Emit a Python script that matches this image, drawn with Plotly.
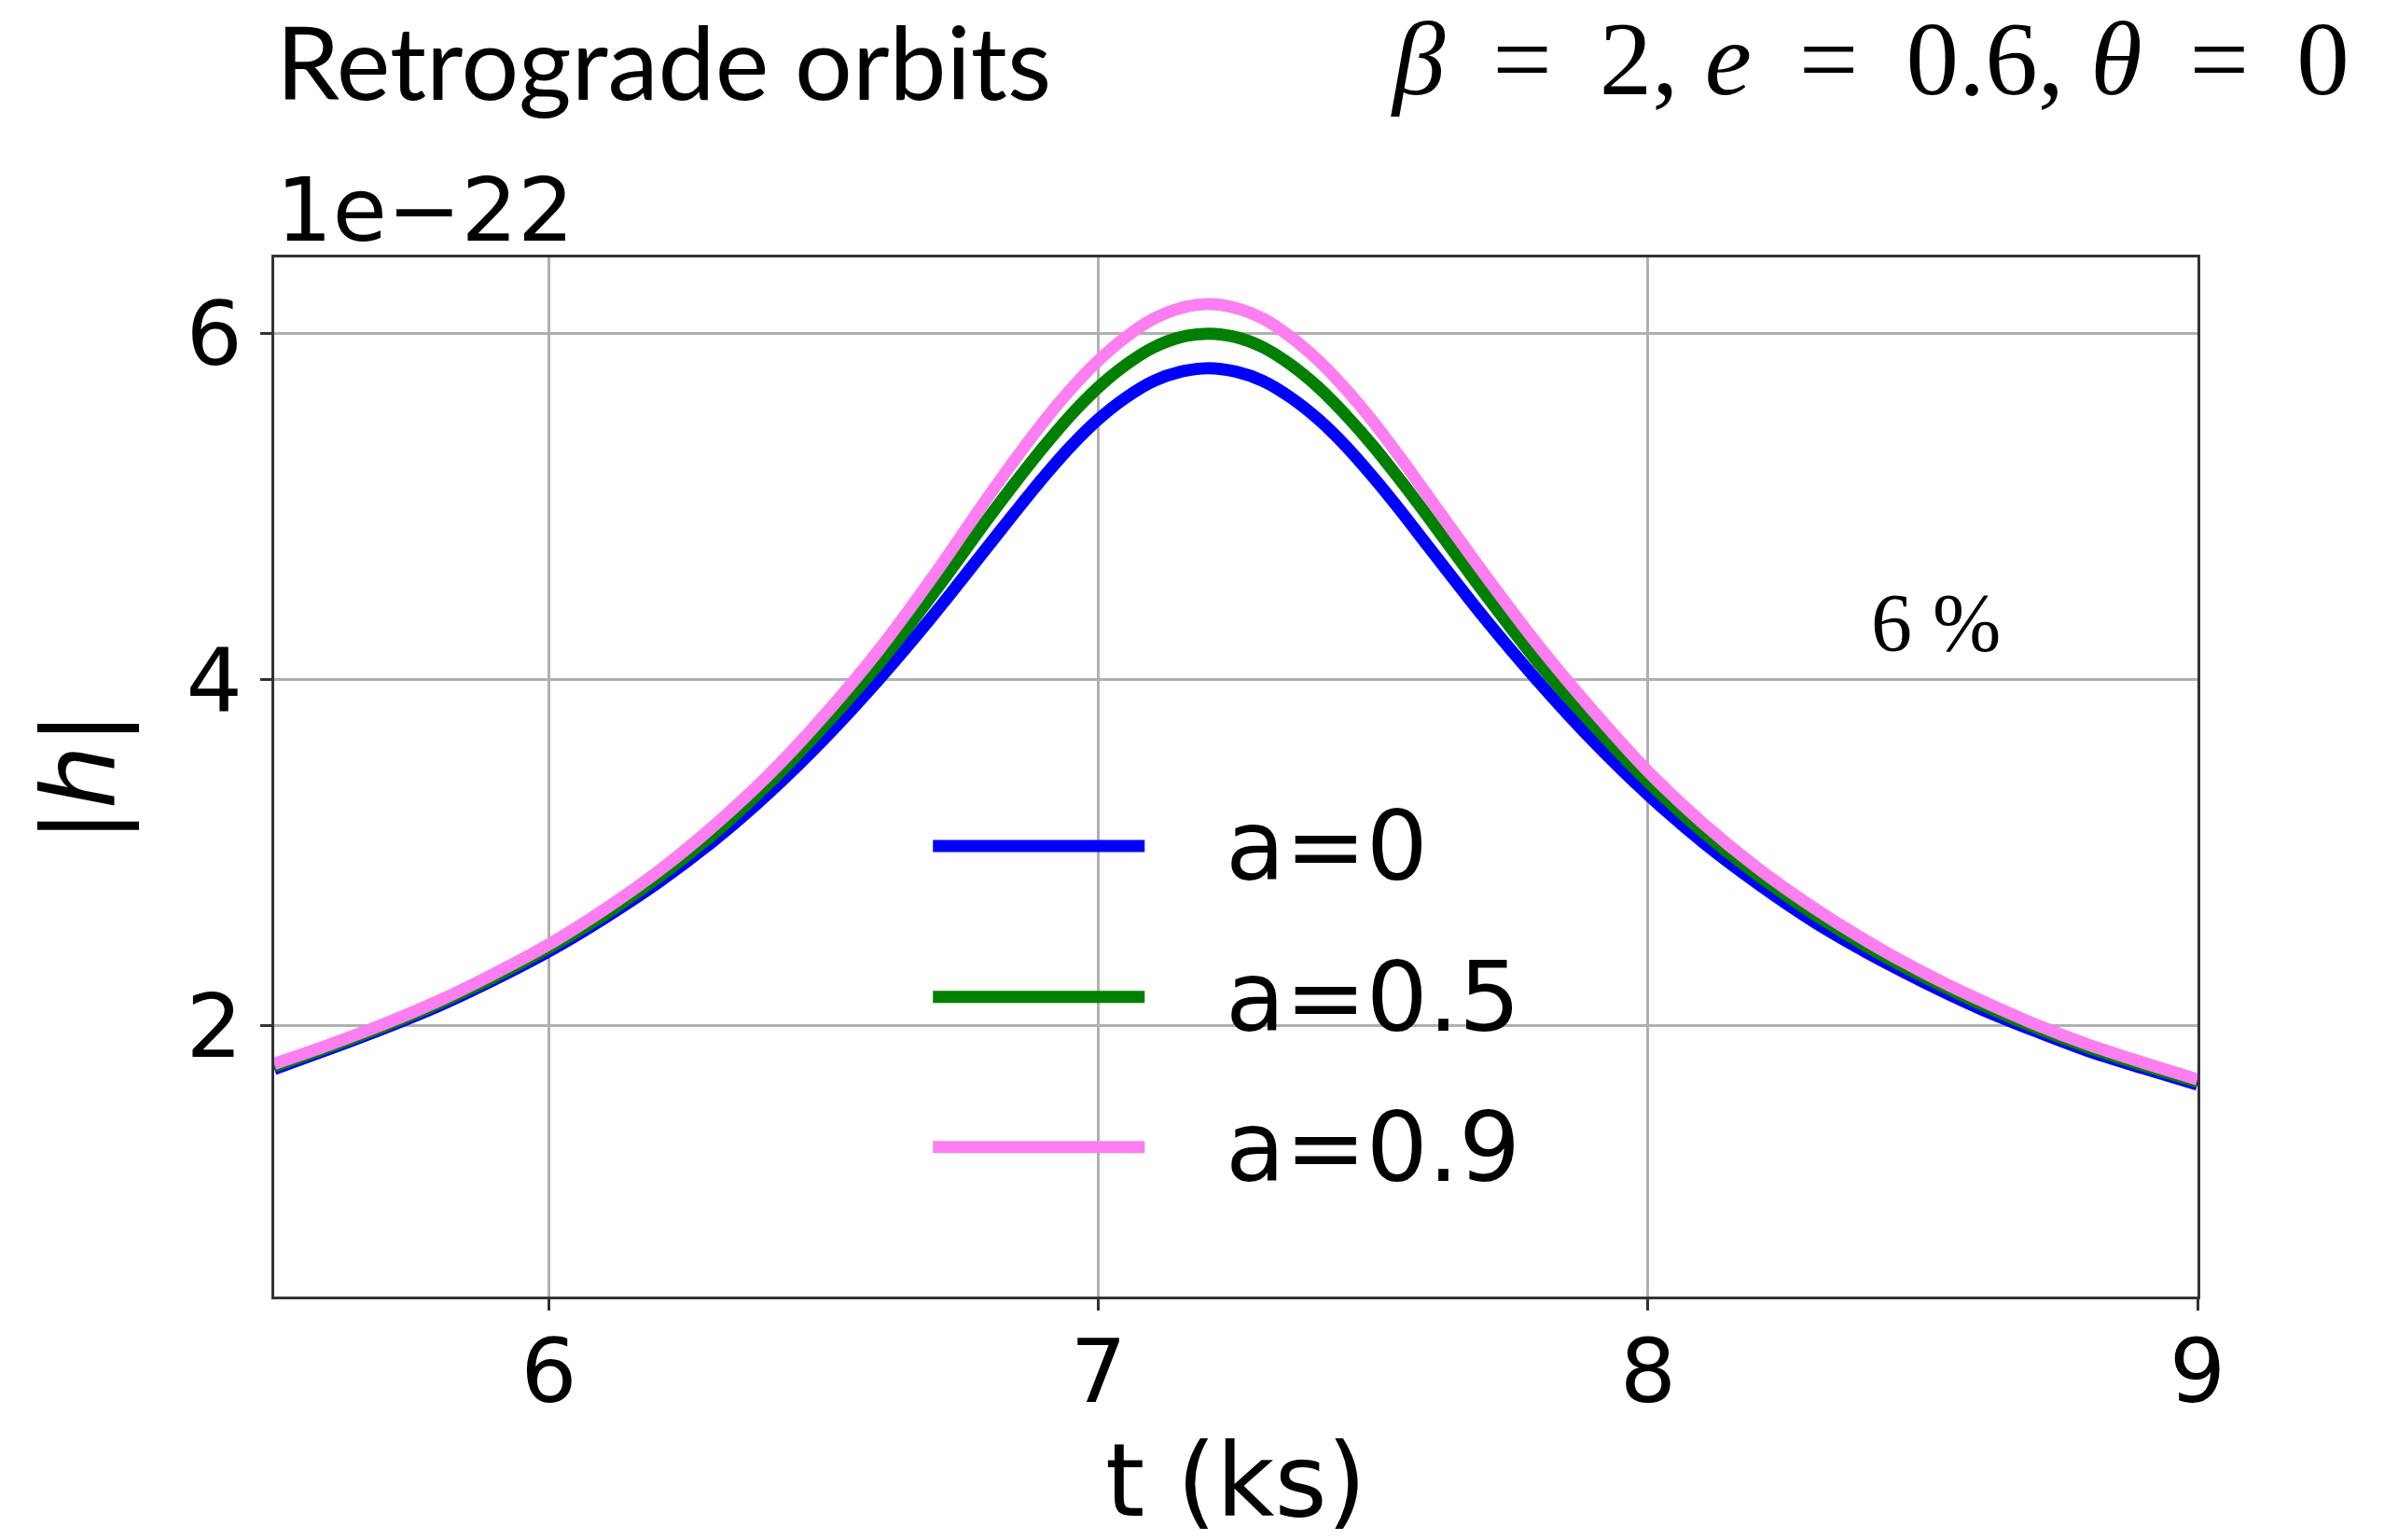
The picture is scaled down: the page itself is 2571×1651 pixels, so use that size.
import plotly.graph_objects as go

# Time axis (ks) and |h| (units of 1e-22) for three spin values
t_ks = [5.5, 5.6, 5.7, 5.8, 5.9, 6.0, 6.1, 6.2, 6.3, 6.4, 6.5, 6.6, 6.7,
        6.8, 6.85, 6.9, 6.95, 7.0, 7.05, 7.1, 7.15, 7.2, 7.25, 7.3, 7.35,
        7.4, 7.45, 7.5, 7.55, 7.6,
        7.7, 7.8, 7.9, 8.0, 8.1, 8.2, 8.3, 8.4, 8.5, 8.6, 8.7, 8.8, 8.9, 9.0]

h_a0 = [1.75, 1.865, 1.985, 2.115, 2.265, 2.43, 2.62, 2.83, 3.07, 3.345, 3.655, 4.00, 4.375,
        4.775, 4.975, 5.17, 5.35, 5.505, 5.63, 5.725, 5.78, 5.80, 5.78, 5.725, 5.63,
        5.505, 5.35, 5.17, 4.975, 4.77,
        4.365, 3.99, 3.645, 3.335, 3.06, 2.82, 2.605, 2.42, 2.255, 2.105, 1.975, 1.855, 1.755, 1.66]

h_a05 = [1.765, 1.877, 1.997, 2.13, 2.28, 2.45, 2.64, 2.86, 3.11, 3.40, 3.73, 4.09, 4.50,
         4.935, 5.145, 5.345, 5.53, 5.69, 5.82, 5.92, 5.98, 6.00, 5.98, 5.92, 5.82,
         5.69, 5.53, 5.35, 5.15, 4.94,
         4.51, 4.10, 3.74, 3.41, 3.12, 2.87, 2.65, 2.455, 2.285, 2.133, 1.995, 1.875, 1.771, 1.675]

h_a09 = [1.78, 1.89, 2.01, 2.145, 2.30, 2.47, 2.67, 2.895, 3.155, 3.45, 3.79, 4.17, 4.60,
         5.06, 5.28, 5.49, 5.68, 5.845, 5.98, 6.085, 6.148, 6.17, 6.148, 6.085, 5.98,
         5.845, 5.68, 5.49, 5.28, 5.06,
         4.62, 4.20, 3.82, 3.47, 3.17, 2.91, 2.685, 2.485, 2.31, 2.155, 2.015, 1.893, 1.788, 1.69]

series_names = ["a=0", "a=0.5", "a=0.9"]
series_values = [h_a0, h_a05, h_a09]
series_colors = ["#0000ff", "#008000", "#fd7ef0"]

x_ticks = [6, 7, 8, 9]
y_ticks = [2, 4, 6]

TICK_FONT = dict(family="DejaVu Sans", size=95, color="black")
LINE_W = 13

fig = go.Figure()
for name, vals, col in zip(series_names, series_values, series_colors):
    fig.add_trace(go.Scatter(
        x=t_ks, y=vals, mode="lines", name=name,
        line=dict(color=col, width=LINE_W, shape="spline", smoothing=0.8),
        showlegend=False,
    ))

# Legend drawn as long line samples with labels inside the axes
legend_rows = [0.4336, 0.2883, 0.1439]
for name, col, yy in zip(series_names, series_colors, legend_rows):
    fig.add_shape(type="line", xref="paper", yref="paper",
                  x0=0.3425, x1=0.4526, y0=yy, y1=yy,
                  line=dict(color=col, width=LINE_W))
    fig.add_annotation(xref="paper", yref="paper", x=0.4938, y=yy,
                       xanchor="left", yanchor="middle", showarrow=False,
                       text=name, font=dict(family="DejaVu Sans", size=104, color="black"))

# Offset multiplier above the y axis
fig.add_annotation(xref="paper", yref="paper", x=0.0, y=1.0, xanchor="left",
                   yanchor="bottom", yshift=-6, showarrow=False, text="1e\u221222",
                   font=dict(family="DejaVu Sans", size=95, color="black"))

# Panel heading and parameters
fig.add_annotation(xref="paper", yref="paper", x=0.0, y=1.19, xanchor="left",
                   yanchor="middle", showarrow=False, text="Retrograde orbits",
                   font=dict(family="Lato", size=109, color="black"))
fig.add_annotation(xref="paper", yref="paper", x=1.08, y=1.192, xanchor="right",
                   yanchor="middle", showarrow=False,
                   text="<i>\u03b2</i>\u2009 = \u20092, <i>e</i>\u2009 = \u20090.6, <i>\u03b8</i>\u2009 = \u20090",
                   font=dict(family="Liberation Serif", size=113, color="black"))
fig.add_annotation(xref="paper", yref="paper", x=0.864, y=0.649, xanchor="center",
                   yanchor="middle", showarrow=False, text="6 %",
                   font=dict(family="Liberation Serif", size=88, color="black"))

axis_common = dict(
    showgrid=True, gridcolor="#b0b0b0", gridwidth=2.5,
    showline=True, linecolor="#333333", linewidth=3, mirror=True,
    ticks="outside", ticklen=12, tickwidth=2.5, tickcolor="#333333",
    tickfont=TICK_FONT, zeroline=False,
)

fig.update_xaxes(range=[5.5, 9.0], tickvals=x_ticks, ticklabelstandoff=-16,
                 title=dict(text="t (ks)", font=dict(family="DejaVu Sans", size=108, color="black"),
                            standoff=8),
                 **axis_common)
fig.update_yaxes(range=[0.435, 6.44], tickvals=y_ticks,
                 title=dict(text="|<i>h</i>|", font=dict(family="DejaVu Sans", size=108, color="black"),
                            standoff=40),
                 **axis_common)

fig.update_layout(
    width=2571, height=1651,
    margin=dict(l=294, r=215, t=276, b=261, autoexpand=False),
    paper_bgcolor="white", plot_bgcolor="white",
)

fig.write_html("out.html")
